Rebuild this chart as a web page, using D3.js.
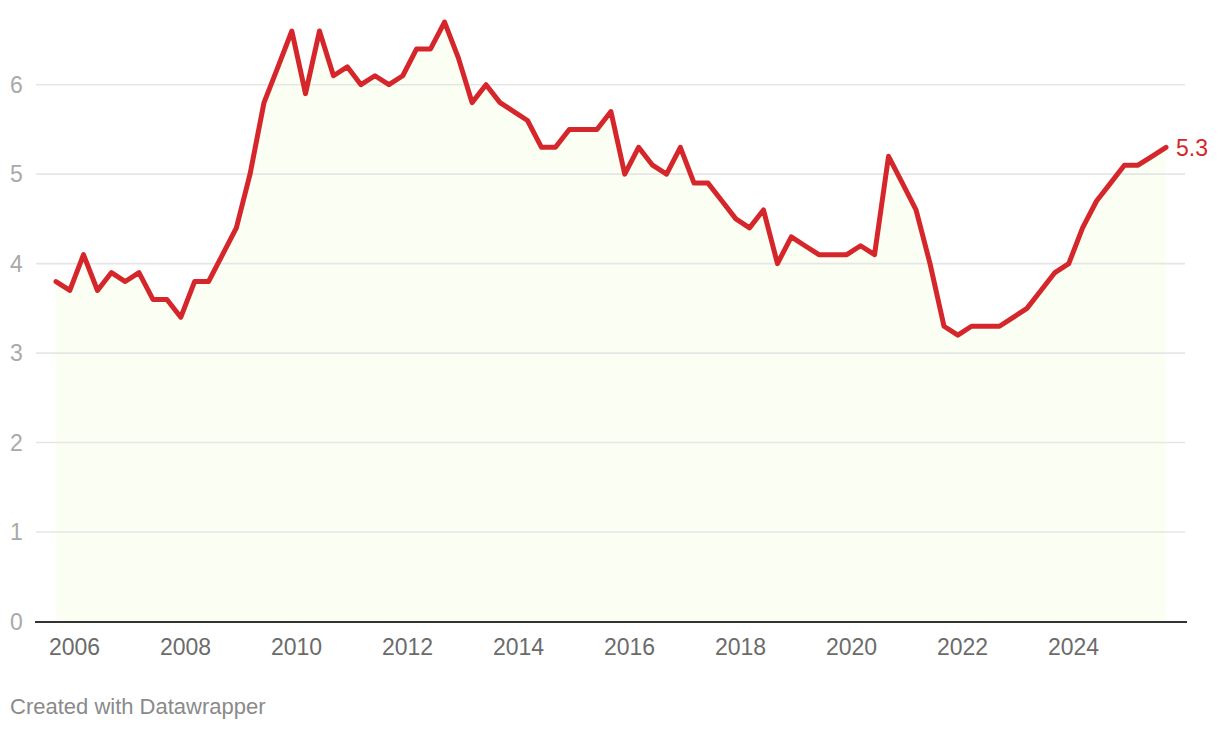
<!DOCTYPE html>
<html>
<head>
<meta charset="utf-8">
<script src="https://cdn.jsdelivr.net/npm/d3@7"></script>
<style>
  html, body { margin: 0; padding: 0; background: #fff; }
  svg { display: block; font-family: "Liberation Sans", Arial, Helvetica, sans-serif; }
</style>
</head>
<body>
<svg id="chart" width="1220" height="730"></svg>
<script>
// Quarter dates (month of quarter end)
const dates = [
  "2005-09","2005-12",
  "2006-03","2006-06","2006-09","2006-12",
  "2007-03","2007-06","2007-09","2007-12",
  "2008-03","2008-06","2008-09","2008-12",
  "2009-03","2009-06","2009-09","2009-12",
  "2010-03","2010-06","2010-09","2010-12",
  "2011-03","2011-06","2011-09","2011-12",
  "2012-03","2012-06","2012-09","2012-12",
  "2013-03","2013-06","2013-09","2013-12",
  "2014-03","2014-06","2014-09","2014-12",
  "2015-03","2015-06","2015-09","2015-12",
  "2016-03","2016-06","2016-09","2016-12",
  "2017-03","2017-06","2017-09","2017-12",
  "2018-03","2018-06","2018-09","2018-12",
  "2019-03","2019-06","2019-09","2019-12",
  "2020-03","2020-06","2020-09","2020-12",
  "2021-03","2021-06","2021-09","2021-12",
  "2022-03","2022-06","2022-09","2022-12",
  "2023-03","2023-06","2023-09","2023-12",
  "2024-03","2024-06","2024-09","2024-12",
  "2025-03","2025-06","2025-09"
];
const values = [
  3.8, 3.7,
  4.1, 3.7, 3.9, 3.8,
  3.9, 3.6, 3.6, 3.4,
  3.8, 3.8, 4.1, 4.4,
  5.0, 5.8, 6.2, 6.6,
  5.9, 6.6, 6.1, 6.2,
  6.0, 6.1, 6.0, 6.1,
  6.4, 6.4, 6.7, 6.3,
  5.8, 6.0, 5.8, 5.7,
  5.6, 5.3, 5.3, 5.5,
  5.5, 5.5, 5.7, 5.0,
  5.3, 5.1, 5.0, 5.3,
  4.9, 4.9, 4.7, 4.5,
  4.4, 4.6, 4.0, 4.3,
  4.2, 4.1, 4.1, 4.1,
  4.2, 4.1, 5.2, 4.9,
  4.6, 4.0, 3.3, 3.2,
  3.3, 3.3, 3.3, 3.4,
  3.5, 3.7, 3.9, 4.0,
  4.4, 4.7, 4.9, 5.1,
  5.1, 5.2, 5.3
];
const yTicks = [0, 1, 2, 3, 4, 5, 6];
const xTickYears = ["2006","2008","2010","2012","2014","2016","2018","2020","2022","2024"];
const footerText = "Created with Datawrapper";

const parse = d3.timeParse("%Y-%m");
const parseYear = d3.timeParse("%Y");
const data = dates.map((d, i) => ({ date: parse(d), value: values[i] }));

const svg = d3.select("#chart");

const x = d3.scaleTime()
  .domain([data[0].date, data[data.length - 1].date])
  .range([56, 1166]);
const y = d3.scaleLinear().domain([0, 6]).range([621.5, 84.7]);

// area
svg.append("path")
  .datum(data)
  .attr("fill", "#fbfef3")
  .attr("d", d3.area().x(d => x(d.date)).y0(y(0)).y1(d => y(d.value)));

// gridlines
svg.append("g").selectAll("line")
  .data(yTicks.filter(t => t !== 0))
  .join("line")
  .attr("x1", 36).attr("x2", 1185)
  .attr("y1", d => y(d)).attr("y2", d => y(d))
  .attr("stroke", "#e6e6e6").attr("stroke-width", 1.6);

// baseline axis
svg.append("line")
  .attr("x1", 35).attr("x2", 1187)
  .attr("y1", y(0) + 0.5).attr("y2", y(0) + 0.5)
  .attr("stroke", "#333").attr("stroke-width", 2);

// y labels
svg.append("g").selectAll("text")
  .data(yTicks)
  .join("text")
  .attr("x", 10)
  .attr("y", d => y(d))
  .attr("dy", "0.36em")
  .attr("fill", "#a9a9a9")
  .attr("font-size", 23)
  .text(d => d);

// x labels
svg.append("g").selectAll("text")
  .data(xTickYears)
  .join("text")
  .attr("x", d => x(parseYear(d)))
  .attr("y", 655)
  .attr("text-anchor", "middle")
  .attr("fill", "#6b6b6b")
  .attr("font-size", 23)
  .text(d => d);

// line
svg.append("path")
  .datum(data)
  .attr("fill", "none")
  .attr("stroke", "#d5272b")
  .attr("stroke-width", 5)
  .attr("stroke-linejoin", "round")
  .attr("stroke-linecap", "round")
  .attr("d", d3.line().x(d => x(d.date)).y(d => y(d.value)));

// end label
const last = data[data.length - 1];
svg.append("text")
  .attr("x", x(last.date) + 10)
  .attr("y", y(last.value))
  .attr("dy", "0.36em")
  .attr("fill", "#d5272b")
  .attr("font-size", 23)
  .text(last.value.toFixed(1));

// footer
svg.append("text")
  .attr("x", 10)
  .attr("y", 714)
  .attr("fill", "#8a8a8a")
  .attr("font-size", 22)
  .text(footerText);
</script>
</body>
</html>
